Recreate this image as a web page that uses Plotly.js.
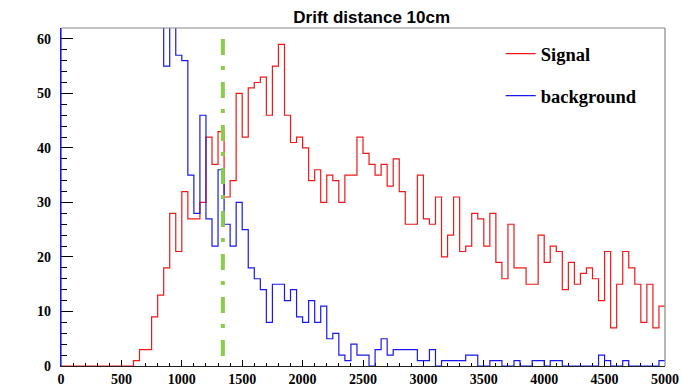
<!DOCTYPE html>
<html>
<head>
<meta charset="utf-8">
<script src="https://cdn.plot.ly/plotly-3.0.1.min.js"></script>
<style>
  html, body { margin: 0; padding: 0; background: #fff; }
  #chart { width: 682px; height: 388px; }
</style>
</head>
<body>
<div id="chart"></div>
<script>
// Histogram binning: 100 bins of 50 over [0, 5000]
const binLow = 0;
const binWidth = 50;

// Signal counts per bin
const signalCounts = [
  0, 0, 0, 0, 0, 0, 0, 0, 0, 0,
  0, 0, 1, 3, 3, 9, 13, 18, 28, 21,
  32, 27, 27, 30, 42, 37, 43, 31, 34, 50,
  42, 51, 52, 53, 46, 55, 59, 46, 41, 42,
  40, 34, 36, 30, 35, 34, 30, 35, 35, 42,
  39, 37, 35, 37, 33, 38, 32, 26, 26, 35,
  27, 26, 31, 20, 24, 31, 21, 22, 28, 27,
  22, 28, 19, 16, 26, 18, 18, 15, 15, 24,
  19, 22, 21, 14, 19, 15, 17, 18, 16, 12,
  21, 7, 15, 21, 18, 15, 8, 15, 7, 11
];

// Background counts per bin (the first bins run past the top of the frame)
const backgroundCounts = [
  95, 92, 90, 88, 86, 84, 82, 80, 78, 76,
  74, 72, 70, 68, 67, 66, 65, 55, 64, 57,
  56, 35, 28, 46, 27, 22, 36, 26, 22, 30,
  25, 18, 16, 14, 8, 15, 15, 12, 14, 9,
  8, 12, 8, 11, 5, 6, 2, 1, 4, 2,
  2, 0, 3, 5, 2, 3, 3, 3, 3, 1,
  1, 3, 0, 1, 1, 1, 1, 2, 2, 0,
  0, 1, 1, 0, 0, 1, 0, 0, 1, 1,
  0, 1, 1, 0, 0, 0, 0, 0, 0, 2,
  1, 0, 0, 1, 0, 0, 0, 0, 0, 1
];

// Cut position and its vertical extent
const cutPosition = 1340;
const cutSpan = [0, 60];

const xTickValues = [0, 500, 1000, 1500, 2000, 2500, 3000, 3500, 4000, 4500, 5000];
const yTickValues = [0, 10, 20, 30, 40, 50, 60];

const signalColor = 'rgb(235,25,25)';
const backgroundColor = 'rgb(25,25,235)';

// Outline of a histogram as a step path (drawn with line.shape = 'hv')
function stepOutline(counts) {
  const xs = [binLow];
  const ys = [0];
  counts.forEach((c, k) => {
    xs.push(binLow + k * binWidth);
    ys.push(c);
  });
  xs.push(binLow + counts.length * binWidth);
  ys.push(counts[counts.length - 1]);
  return { xs, ys };
}

const sig = stepOutline(signalCounts);
const bkg = stepOutline(backgroundCounts);

const legendFont = { family: '"Liberation Serif", "Times New Roman", serif', size: 18.5, weight: 'bold', color: '#000' };
const tickFont = { family: '"Liberation Serif", "Times New Roman", serif', size: 14, weight: 'bold', color: '#000' };

const traces = [
  {
    x: sig.xs, y: sig.ys, type: 'scatter', mode: 'lines',
    line: { shape: 'hv', color: signalColor, width: 1.2 },
    name: 'Signal', legendgroup: 'sig', hoverinfo: 'skip'
  },
  {
    x: bkg.xs, y: bkg.ys, type: 'scatter', mode: 'lines',
    line: { shape: 'hv', color: backgroundColor, width: 1.2 },
    name: 'background', legendgroup: 'bkg', hoverinfo: 'skip'
  },
  {
    x: [cutPosition, cutPosition], y: [cutSpan[1], cutSpan[0]], type: 'scatter', mode: 'lines',
    line: { color: 'rgb(140,204,76)', width: 4, dash: '16px,11px,4px,12px' },
    showlegend: false, hoverinfo: 'skip'
  }
];

const layout = {
  width: 682, height: 388,
  margin: { l: 61, r: 17, t: 28, b: 22, pad: 0 },
  paper_bgcolor: '#fff', plot_bgcolor: '#fff',
  title: {
    text: 'Drift distance 10cm',
    font: { family: '"Liberation Sans", Arial, sans-serif', size: 17, weight: 'bold', color: '#000' },
    xref: 'container', yref: 'container', x: 0.545, y: 0.956, xanchor: 'center', yanchor: 'middle'
  },
  xaxis: {
    range: [0, 5000], autorange: false,
    tickmode: 'array', tickvals: xTickValues, ticktext: xTickValues.map(String),
    ticks: 'inside', ticklen: 6, tickwidth: 1, tickcolor: '#000',
    minor: { dtick: 100, ticks: 'inside', ticklen: 3, tickwidth: 1, tickcolor: '#000', showgrid: false },
    showline: true, linecolor: '#222', linewidth: 1, mirror: false,
    showgrid: false, zeroline: false, layer: 'below traces',
    tickfont: tickFont, automargin: false
  },
  yaxis: {
    range: [0, 62], autorange: false,
    tickmode: 'array', tickvals: yTickValues, ticktext: yTickValues.map(String),
    ticks: 'inside', ticklen: 12, tickwidth: 1, tickcolor: '#000',
    minor: { dtick: 2, ticks: 'inside', ticklen: 6, tickwidth: 1, tickcolor: '#000', showgrid: false },
    // the background outline rises along the left edge, so the frame there reads blue
    showline: true, linecolor: backgroundColor, linewidth: 1.2, mirror: false,
    showgrid: false, zeroline: false, layer: 'below traces',
    tickfont: tickFont, automargin: false, ticklabelstandoff: 6
  },
  shapes: [
    { type: 'line', xref: 'paper', yref: 'paper', x0: 0, x1: 1, y0: 1, y1: 1, line: { color: '#888', width: 1.2 } },
    { type: 'line', xref: 'paper', yref: 'paper', x0: 1, x1: 1, y0: 0, y1: 1, line: { color: '#888', width: 1.2 } }
  ],
  showlegend: true,
  legend: {
    x: 0.728, y: 0.979, xanchor: 'left', yanchor: 'top',
    bgcolor: 'rgba(0,0,0,0)', borderwidth: 0,
    font: legendFont, traceorder: 'grouped', tracegroupgap: 15,
    itemwidth: 30
  }
};

Plotly.newPlot('chart', traces, layout, { staticPlot: true, displayModeBar: false });
</script>
</body>
</html>
